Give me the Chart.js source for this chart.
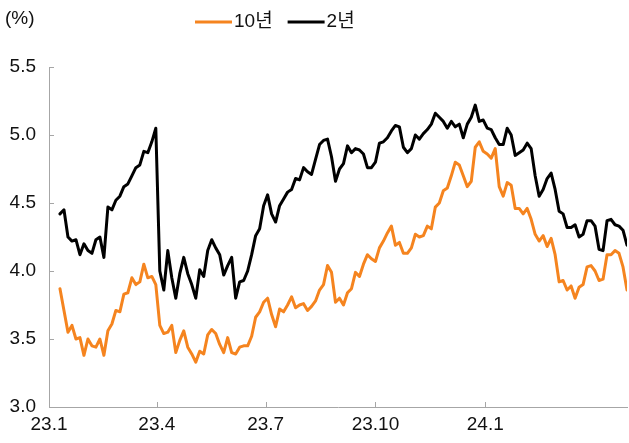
<!DOCTYPE html>
<html lang="ko">
<head>
<meta charset="utf-8">
<script src="https://cdn.jsdelivr.net/npm/chart.js@4"></script>
<style>
  html, body { margin: 0; padding: 0; background: #fff; }
</style>
</head>
<body>
<canvas id="chart" width="629" height="443"></canvas>
<script>
// 시리즈 이름 / 색상
const seriesNames = ['10년', '2년'];
const seriesColors = ['#F5841F', '#000000'];

// 10년물 금리 (%)
const tenYear = [
  3.87, 3.71, 3.55, 3.60, 3.50, 3.51, 3.38, 3.50, 3.45, 3.44,
  3.50, 3.38, 3.56, 3.61, 3.71, 3.70, 3.83, 3.84, 3.95, 3.90,
  3.92, 4.05, 3.95, 3.96, 3.90, 3.60, 3.54, 3.55, 3.60, 3.40,
  3.49, 3.56, 3.44, 3.39, 3.33, 3.41, 3.39, 3.53, 3.57, 3.54,
  3.46, 3.40, 3.51, 3.40, 3.39, 3.44, 3.45, 3.45, 3.52, 3.66,
  3.70, 3.77, 3.80, 3.68, 3.59, 3.72, 3.70, 3.75, 3.81, 3.73,
  3.75, 3.76, 3.71, 3.74, 3.78, 3.86, 3.90, 4.04, 3.99, 3.77,
  3.80, 3.75, 3.84, 3.87, 3.99, 3.96, 4.05, 4.12, 4.09, 4.07,
  4.17, 4.22, 4.28, 4.33, 4.19, 4.21, 4.13, 4.13, 4.17, 4.27,
  4.25, 4.26, 4.33, 4.31, 4.47, 4.50, 4.59, 4.61, 4.70, 4.80,
  4.78, 4.70, 4.62, 4.66, 4.91, 4.95, 4.88, 4.86, 4.83, 4.90,
  4.62, 4.55, 4.65, 4.63, 4.46, 4.46, 4.42, 4.46, 4.38, 4.27,
  4.22, 4.26, 4.18, 4.24, 4.12, 3.92, 3.93, 3.86, 3.89, 3.80,
  3.88, 3.90, 4.03, 4.04, 4.00, 3.93, 3.94, 4.12, 4.12, 4.15,
  4.13, 4.03, 3.86
];

// 2년물 금리 (%)
const twoYear = [
  4.42, 4.45, 4.25, 4.22, 4.23, 4.12, 4.20, 4.15, 4.13, 4.23,
  4.25, 4.10, 4.47, 4.45, 4.52, 4.55, 4.62, 4.64, 4.70, 4.76,
  4.78, 4.88, 4.87, 4.95, 5.05, 4.00, 3.86, 4.15, 3.95, 3.80,
  3.98, 4.10, 3.98, 3.90, 3.80, 4.01, 3.96, 4.15, 4.23, 4.17,
  4.12, 3.97, 4.04, 4.10, 3.80, 3.92, 3.93, 4.00, 4.12, 4.26,
  4.31, 4.48, 4.56, 4.42, 4.36, 4.48, 4.53, 4.58, 4.60, 4.68,
  4.67, 4.76, 4.73, 4.71, 4.82, 4.93, 4.96, 4.97, 4.84, 4.66,
  4.75, 4.79, 4.92, 4.87, 4.90, 4.89, 4.86, 4.76, 4.76, 4.80,
  4.94, 4.95, 4.98, 5.03, 5.07, 5.06, 4.91, 4.87, 4.90, 5.00,
  4.97, 5.01, 5.04, 5.08, 5.16, 5.13, 5.10, 5.05, 5.10, 5.06,
  5.08, 4.98, 5.08, 5.13, 5.22, 5.10, 5.11, 5.05, 5.04, 4.98,
  4.93, 4.93, 5.05, 5.00, 4.85, 4.87, 4.89, 4.94, 4.90, 4.70,
  4.55, 4.60, 4.68, 4.72, 4.60, 4.44, 4.42, 4.32, 4.32, 4.34,
  4.25, 4.27, 4.37, 4.37, 4.33, 4.16, 4.15, 4.37, 4.38, 4.34,
  4.33, 4.30, 4.19
];

// x축 눈금 (관측치 순번 기준) 과 라벨
const xTickPos = [-2.75, 24.25, 51.5, 79, 106.5];
const xTickLabels = ['23.1', '23.4', '23.7', '23.10', '24.1'];
const yTicks = [3.0, 3.5, 4.0, 4.5, 5.0, 5.5];
const unitLabel = '(%)';

const FONT = "'Liberation Sans', Arial, 'Noto Sans CJK KR', sans-serif";
const TEXT_COLOR = '#111111';
const AXIS_COLOR = '#a6a6a6';

const toPoints = arr => arr.map((v, i) => ({ x: i, y: v }));

// 안쪽으로 향하는 눈금 표시
const innerTicks = {
  id: 'innerTicks',
  beforeDatasetsDraw(chart) {
    const { ctx, chartArea, scales } = chart;
    ctx.save();
    ctx.strokeStyle = AXIS_COLOR;
    ctx.lineWidth = 1;
    scales.x.ticks.forEach(t => {
      const px = Math.round(scales.x.getPixelForValue(t.value)) + 0.5;
      ctx.beginPath();
      ctx.moveTo(px, chartArea.bottom);
      ctx.lineTo(px, chartArea.bottom - 5);
      ctx.stroke();
    });
    scales.y.ticks.forEach(t => {
      const py = Math.round(scales.y.getPixelForValue(t.value)) + 0.5;
      ctx.beginPath();
      ctx.moveTo(chartArea.left, py);
      ctx.lineTo(chartArea.left + 5, py);
      ctx.stroke();
    });
    ctx.restore();
  }
};

// 범례와 단위 표시
const legendAndUnit = {
  id: 'legendAndUnit',
  afterDraw(chart) {
    const ctx = chart.ctx;
    ctx.save();
    ctx.font = '19px ' + FONT;
    ctx.fillStyle = TEXT_COLOR;
    ctx.textBaseline = 'middle';
    ctx.fillText(unitLabel, 5, 19);

    let x = 195;
    const y = 22;
    chart.data.datasets.forEach(ds => {
      ctx.strokeStyle = ds.borderColor;
      ctx.lineWidth = 3;
      ctx.beginPath();
      ctx.moveTo(x, y);
      ctx.lineTo(x + 37, y);
      ctx.stroke();
      x += 39;
      ctx.fillStyle = TEXT_COLOR;
      ctx.fillText(ds.label, x, y);
      x += ctx.measureText(ds.label).width + 15;
    });
    ctx.restore();
  }
};

new Chart(document.getElementById('chart'), {
  type: 'line',
  data: {
    datasets: [
      { label: seriesNames[0], data: toPoints(tenYear), borderColor: seriesColors[0], backgroundColor: seriesColors[0] },
      { label: seriesNames[1], data: toPoints(twoYear), borderColor: seriesColors[1], backgroundColor: seriesColors[1] }
    ]
  },
  options: {
    responsive: false,
    devicePixelRatio: 1,
    animation: false,
    layout: { padding: { top: 67, right: 2, left: 0, bottom: 0 } },
    elements: {
      point: { radius: 0 },
      line: { borderWidth: 3, tension: 0, borderJoinStyle: 'round', borderCapStyle: 'round' }
    },
    plugins: {
      legend: { display: false },
      tooltip: { enabled: false }
    },
    scales: {
      x: {
        type: 'linear',
        min: -2.75,
        max: 142,
        afterBuildTicks: s => { s.ticks = xTickPos.map(v => ({ value: v })); },
        afterFit: s => { s.height = 36; },
        ticks: {
          autoSkip: false,
          maxRotation: 0,
          padding: 6,
          color: TEXT_COLOR,
          font: { family: FONT, size: 19 },
          callback: (v, i) => xTickLabels[i]
        },
        grid: { display: false, drawTicks: false },
        border: { display: true, color: AXIS_COLOR, width: 1 }
      },
      y: {
        min: 3,
        max: 5.5,
        afterBuildTicks: s => { s.ticks = yTicks.map(v => ({ value: v })); },
        afterFit: s => { s.width = 49; },
        ticks: {
          padding: 13,
          color: TEXT_COLOR,
          font: { family: FONT, size: 19 },
          callback: v => Number(v).toFixed(1)
        },
        grid: { display: false, drawTicks: false },
        border: { display: true, color: AXIS_COLOR, width: 1 }
      }
    }
  },
  plugins: [innerTicks, legendAndUnit]
});
</script>
</body>
</html>
